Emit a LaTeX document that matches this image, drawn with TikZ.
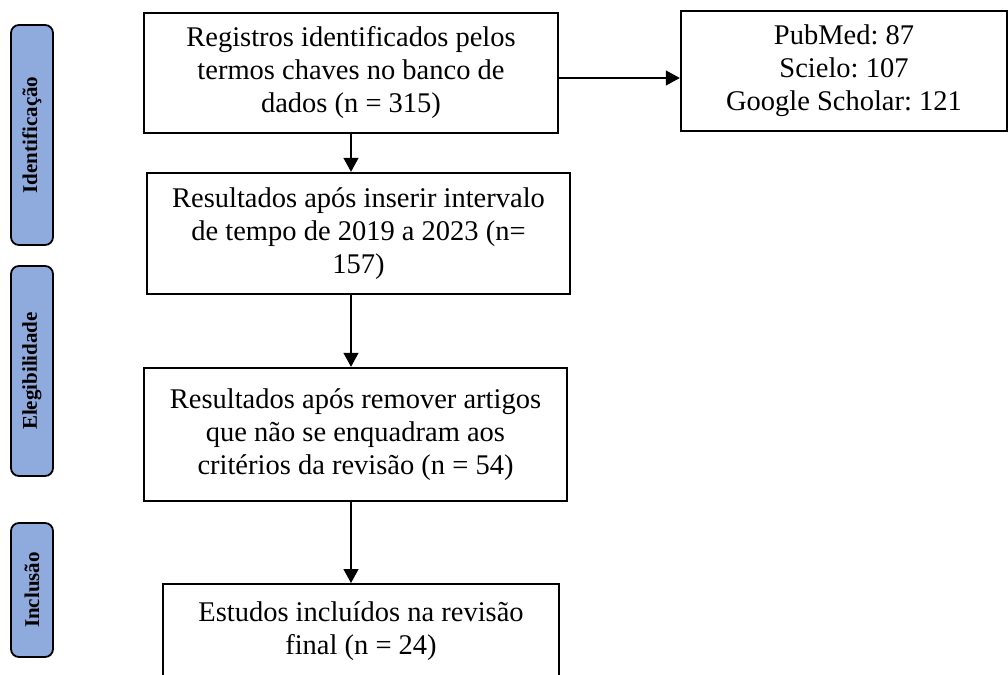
\documentclass[tikz,border=0pt]{standalone}
\usepackage{fontspec}
\setmainfont{Liberation Serif}
\usetikzlibrary{arrows.meta,positioning,calc}

\definecolor{phaseblue}{HTML}{8FAADC}
\frenchspacing

\begin{document}
\begin{tikzpicture}[x=1pt, y=-1pt,
  box/.style={draw, line width=2.4pt, inner sep=4pt, align=center,
    font=\fontsize{28.5}{33}\selectfont},
  phase/.style={draw, line width=1.8pt, fill=phaseblue, rounded corners=8pt,
    rotate=90, minimum height=42pt, inner sep=0pt,
    font=\fontsize{21}{24}\selectfont\bfseries},
  arr/.style={line width=1.3pt, -{Triangle[width=15pt,length=14pt]}}]
\useasboundingbox (0,0) rectangle (1008,674);

% phases on the left
\foreach \nm/\lbl/\yc/\hh in {ident/Identificação/135/220, eleg/Elegibilidade/371/210, incl/Inclusão/590/134}
  \node[phase, minimum width=\hh pt] (\nm) at (32,\yc) {\lbl};

% main flow
\node[box, minimum width=414pt, minimum height=120pt] (reg) at (351,73)
  {Registros identificados pelos\\termos chaves no banco de\\dados (n = 315)};
\node[box, minimum width=326pt, minimum height=120pt] (src) at (844,71)
  {PubMed: 87\\Scielo: 107\\Google Scholar: 121};
\node[box, minimum width=423pt, minimum height=121pt] (res) at (358.5,233.5)
  {Resultados após inserir intervalo\\de tempo de 2019 a 2023 (n=\\157)};
\node[box, minimum width=423pt, minimum height=133pt] (rem) at (355.5,434.5)
  {Resultados após remover artigos\\que não se enquadram aos\\critérios da revisão (n = 54)};
\node[box, minimum width=396pt, anchor=north, inner ysep=17pt, text depth=80pt] (inc) at (361,583)
  {Estudos incluídos na revisão\\final (n = 24)};

\draw[arr] ([yshift=-5pt]reg.east) -- ([yshift=-5pt]reg.east -| src.west);
\draw[arr] (reg.south) -- (reg.south |- res.north);
\draw[arr] (res.south -| reg.south) -- (rem.north -| reg.south);
\draw[arr] (rem.south -| reg.south) -- (inc.north -| reg.south);
\end{tikzpicture}
\end{document}
